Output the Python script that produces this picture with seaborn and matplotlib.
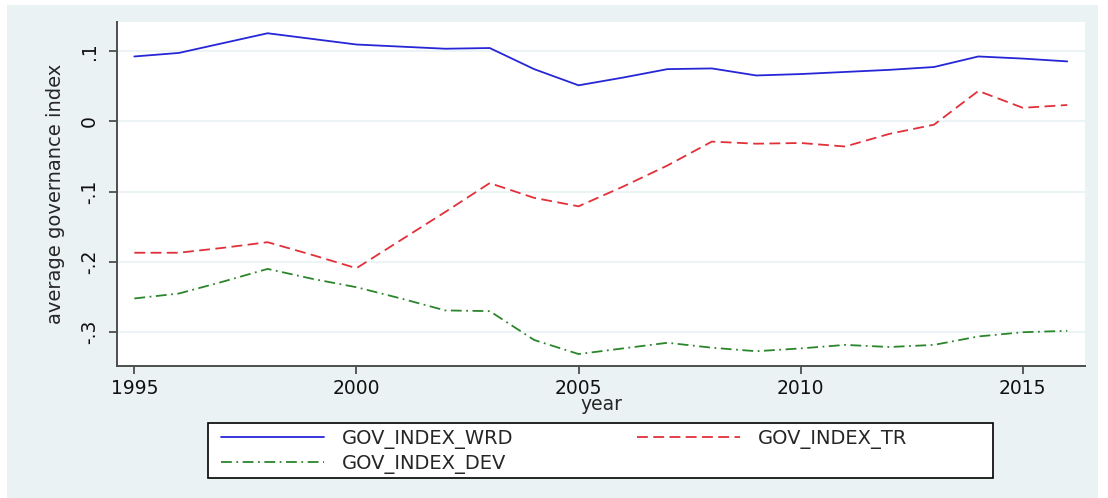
import pandas as pd
import seaborn as sns
import matplotlib.pyplot as plt
import matplotlib.ticker as ticker
from matplotlib.patches import Rectangle

years = list(range(1995, 2017))
gov_wrd = [0.092, 0.097, 0.111, 0.125, 0.117, 0.109, 0.106, 0.103, 0.104, 0.074, 0.051,
           0.062, 0.074, 0.075, 0.065, 0.067, 0.070, 0.073, 0.077, 0.092, 0.089, 0.085]
gov_tr = [-0.187, -0.187, -0.180, -0.172, -0.190, -0.209, -0.169, -0.129, -0.088, -0.109, -0.121,
          -0.093, -0.063, -0.029, -0.032, -0.031, -0.036, -0.018, -0.005, 0.043, 0.019, 0.023]
gov_dev = [-0.252, -0.245, -0.228, -0.210, -0.224, -0.236, -0.252, -0.269, -0.270, -0.311, -0.331,
           -0.323, -0.315, -0.322, -0.327, -0.323, -0.318, -0.321, -0.318, -0.306, -0.300, -0.298]
series_names = ['GOV_INDEX_WRD', 'GOV_INDEX_TR', 'GOV_INDEX_DEV']
x_ticks = [1995, 2000, 2005, 2010, 2015]
y_ticks = [-0.3, -0.2, -0.1, 0.0, 0.1]

df = pd.DataFrame({
    'year': years * 3,
    'value': gov_wrd + gov_tr + gov_dev,
    'series': [series_names[0]] * len(years) + [series_names[1]] * len(years) + [series_names[2]] * len(years),
})

my_palette = {'GOV_INDEX_WRD': '#2626d6', 'GOV_INDEX_TR': '#e2303a', 'GOV_INDEX_DEV': '#2b862b'}
my_dashes = {'GOV_INDEX_WRD': '', 'GOV_INDEX_TR': (6, 3), 'GOV_INDEX_DEV': (6, 2.5, 1, 2.5)}

sns.set_theme(style='white')
plt.rcParams['font.family'] = ['DejaVu Sans']

W, H = 1108, 498
fig = plt.figure(figsize=(W / 100, H / 100), dpi=100)
fig.patch.set_facecolor('white')
fig.patches.append(Rectangle((7 / W, 0), 1091 / W, 493 / H, transform=fig.transFigure,
                             facecolor='#eaf2f3', edgecolor='none', zorder=-10))

# title of the page, cut off above the picture (only the lowest part shows)
fig.text(0.02, 1 + 5 / H, 'Figure 1: Average governance quality by group of countries', fontsize=15,
         fontweight='bold', family=['Liberation Serif', 'DejaVu Serif'], va='baseline', ha='left')

ax = fig.add_axes([117 / W, 1 - 366 / H, 968 / W, 344 / H])
ax.set_facecolor('white')

sns.lineplot(x='year', y='value', hue='series', style='series', data=df, ax=ax,
             palette=my_palette, dashes=my_dashes, linewidth=1.3, legend=True)

ax.set_xlim(1994.61, 2016.4)
ax.set_ylim(-0.348, 0.141)
ax.set_xticks(x_ticks)
ax.set_yticks(y_ticks)
ax.yaxis.set_major_formatter(ticker.FuncFormatter(
    lambda v, p: '0' if abs(v) < 1e-9 else f'{v:.1f}'.replace('0.', '.')))

ax.grid(axis='y', color='#eaf2f3', linewidth=1.2)
ax.grid(axis='x', visible=False)
for side in ['top', 'right']:
    ax.spines[side].set_visible(False)
for side in ['left', 'bottom']:
    ax.spines[side].set_color('#4d4d4d')
    ax.spines[side].set_linewidth(1.4)

ax.tick_params(axis='both', which='major', direction='out', length=6, width=1.3,
               color='#4d4d4d', labelsize=13.5, labelcolor='#111111', left=True, bottom=True)
ax.tick_params(axis='x', pad=3)
ax.tick_params(axis='y', pad=7, labelrotation=90)
for lab in ax.get_yticklabels():
    lab.set_va('center')

ax.set_xlabel('year', fontsize=13.5, va='center')
ax.set_ylabel('average governance index', fontsize=14, va='center')
ax.xaxis.set_label_coords(0.5, -0.112)
ax.yaxis.set_label_coords(-0.064, 0.5)

# legend: white box below the plot, two columns filled row by row
handles, labels = ax.get_legend_handles_labels()
ax.get_legend().remove()
fig.patches.append(Rectangle((208 / W, 1 - 478 / H), 785 / W, 55 / H, transform=fig.transFigure,
                             facecolor='white', edgecolor='black', linewidth=1.2, zorder=-5))

def pick(names):
    return [handles[labels.index(n)] for n in names], names

leg_opts = dict(loc='upper left', bbox_transform=fig.transFigure, frameon=False, borderpad=0,
                borderaxespad=0, fontsize=14, handlelength=5.3, handletextpad=0.9, labelspacing=0.25)
h1, l1 = pick(['GOV_INDEX_WRD', 'GOV_INDEX_DEV'])
leg1 = ax.legend(h1, l1, bbox_to_anchor=(221 / W, 1 - 429 / H), **leg_opts)
ax.add_artist(leg1)
h2, l2 = pick(['GOV_INDEX_TR'])
leg2 = ax.legend(h2, l2, bbox_to_anchor=(637 / W, 1 - 429 / H), **leg_opts)
for leg in [leg1, leg2]:
    for line in leg.get_lines():
        line.set_linewidth(1.3)

plt.savefig('out.png', dpi=100)
